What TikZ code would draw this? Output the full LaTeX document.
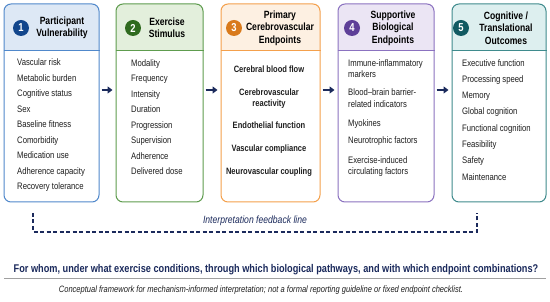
\documentclass[tikz,border=0pt]{standalone}
\usepackage{fontspec}
\setmainfont{Liberation Sans}[FakeStretch=0.82]
\usetikzlibrary{arrows.meta, positioning, calc}
\definecolor{navy}{HTML}{1B2A5C}
\definecolor{txtgray}{HTML}{1E1E1E}
\definecolor{rulegray}{HTML}{A0A0A0}
\definecolor{vblue}{HTML}{5088CB}
\definecolor{vbluedk}{HTML}{12468C}
\definecolor{vbluelt}{HTML}{DDE8F5}
\definecolor{sgreen}{HTML}{5E9C4E}
\definecolor{sgreendk}{HTML}{2F6A1F}
\definecolor{sgreenlt}{HTML}{E3EFDC}
\definecolor{corange}{HTML}{F4A04C}
\definecolor{corangedk}{HTML}{D97A1C}
\definecolor{corangelt}{HTML}{FDF0E2}
\definecolor{bpurple}{HTML}{8B72C0}
\definecolor{bpurpledk}{HTML}{5E3F98}
\definecolor{bpurplelt}{HTML}{EBE5F4}
\definecolor{oteal}{HTML}{3F8B8D}
\definecolor{otealdk}{HTML}{115A62}
\definecolor{otteallt}{HTML}{DDEFEF}

\begin{document}
\begin{tikzpicture}[
  x=1pt, y=1pt,
  >={Triangle[length=5pt, width=7pt]},
  every node/.style={text=txtgray},
  stagebox/.style={draw, rounded corners=7pt, line width=1pt, minimum height=198pt, inner sep=0pt},
  hdr/.style={rounded corners=7pt},
  numdot/.style={circle, minimum size=16pt, inner sep=0pt, font=\fontsize{11.5}{11.5}\selectfont\bfseries, text=white},
  ttl/.style={font=\fontsize{10.5}{12.5}\selectfont\bfseries, align=center, text=black},
  items/.style={font=\fontsize{9.4}{15.5}\selectfont, align=left, anchor=north west, inner sep=0pt},
  flow/.style={navy, line width=2pt, ->, shorten <=2pt, shorten >=3pt},
]

% Canvas
\fill[white] (0,0) rectangle (550,302);
\useasboundingbox (0,0) rectangle (550,302);

% 1 - Participant vulnerability
\fill[vbluelt, hdr] (4,251) -- (4,298) -- (99,298) -- (99,251);
\node[stagebox, draw=vblue, minimum width=95pt] (vuln) at (51.5,199) {};
\draw[vblue, line width=1pt] (vuln.west |- 0,251) -- (vuln.east |- 0,251);
\node[numdot, fill=vbluedk] (n1) at (21,274) {1};
\node[ttl] (t1) at (62,274) {Participant\\Vulnerability};
\node[items] (l1) at (17,243.5) {Vascular risk\\Metabolic burden\\Cognitive status\\Sex\\Baseline fitness\\Comorbidity\\Medication use\\Adherence capacity\\Recovery tolerance};

% 2 - Exercise stimulus
\fill[sgreenlt, hdr] (116,251) -- (116,298) -- (203,298) -- (203,251);
\node[stagebox, draw=sgreen, minimum width=87pt] (stim) at (159.5,199) {};
\draw[sgreen, line width=1pt] (stim.west |- 0,251) -- (stim.east |- 0,251);
\node[numdot, fill=sgreendk] (n2) at (133,274) {2};
\node[ttl] (t2) at (167,274) {Exercise\\Stimulus};
\node[items] (l2) at (131,243) {Modality\\Frequency\\Intensity\\Duration\\Progression\\Supervision\\Adherence\\Delivered dose};

% 3 - Primary cerebrovascular endpoints
\fill[corangelt, hdr] (221,251) -- (221,298) -- (320,298) -- (320,251);
\node[stagebox, draw=corange, minimum width=99pt] (prim) at (270.5,199) {};
\draw[corange, line width=1pt] (prim.west |- 0,251) -- (prim.east |- 0,251);
\node[numdot, fill=corangedk] (n3) at (234,274) {3};
\node[ttl] (t3) at (280,274) {Primary\\Cerebrovascular\\Endpoints};
\node[items, font=\fontsize{9.2}{11}\selectfont\bfseries, align=center, anchor=north] (l3) at (269,236) {Cerebral blood flow\\[11.5pt]Cerebrovascular\\reactivity\\[11.5pt]Endothelial function\\[11.5pt]Vascular compliance\\[12.5pt]Neurovascular coupling};

% 4 - Supportive biological endpoints
\fill[bpurplelt, hdr] (338,251) -- (338,298) -- (434,298) -- (434,251);
\node[stagebox, draw=bpurple, minimum width=96pt] (supp) at (386,199) {};
\draw[bpurple, line width=1pt] (supp.west |- 0,251) -- (supp.east |- 0,251);
\node[numdot, fill=bpurpledk] (n4) at (352,274) {4};
\node[ttl] (t4) at (393,274) {Supportive\\Biological\\Endpoints};
\node[items, font=\fontsize{9.4}{11.5}\selectfont] (l4) at (348,243) {Immune-inflammatory\\markers\\[6.5pt]Blood--brain barrier-\\related indicators\\[8pt]Myokines\\[5.5pt]Neurotrophic factors\\[8pt]Exercise-induced\\circulating factors};

% 5 - Cognitive / translational outcomes
\fill[otteallt, hdr] (452,251) -- (452,298) -- (546,298) -- (546,251);
\node[stagebox, draw=oteal, minimum width=94pt] (outc) at (499,199) {};
\draw[oteal, line width=1pt] (outc.west |- 0,251) -- (outc.east |- 0,251);
\node[numdot, fill=otealdk] (n5) at (461,274) {5};
\node[ttl] (t5) at (506,274) {Cognitive /\\Translational\\Outcomes};
\node[items, font=\fontsize{9.4}{16.3}\selectfont] (l5) at (462,243) {Executive function\\Processing speed\\Memory\\Global cognition\\Functional cognition\\Feasibility\\Safety\\Maintenance};

% Flow arrows
\draw[flow] ([yshift=13pt]vuln.east) -- ([yshift=13pt]stim.west);
\draw[flow] ([yshift=13pt]stim.east) -- ([yshift=13pt]prim.west);
\draw[flow] ([yshift=13pt]prim.east) -- ([yshift=13pt]supp.west);
\draw[flow] ([yshift=13pt]supp.east) -- ([yshift=13pt]outc.west);

% Feedback line
\coordinate (fbL) at (33,89);
\coordinate (fbR) at (477,89);
\draw[navy, line width=1.2pt, dash pattern=on 4pt off 2.5pt] (fbL) -- ++(0,-19) -| (fbR);
\node[font=\fontsize{10.5}{12}\selectfont\itshape, text=navy] (fbtxt) at (255,81) {Interpretation feedback line};

% Guiding question
\node[font=\fontsize{11.2}{13}\selectfont\bfseries, text=navy] (ask) at (276,32) {For whom, under what exercise conditions, through which biological pathways, and with which endpoint combinations?};
\draw[rulegray, line width=0.6pt] (4,24) -- (546,24);

% Footnote
\node[font=\fontsize{9.2}{10}\selectfont\itshape] (note) at (261,12) {Conceptual framework for mechanism-informed interpretation; not a formal reporting guideline or fixed endpoint checklist.};

\end{tikzpicture}
\end{document}
